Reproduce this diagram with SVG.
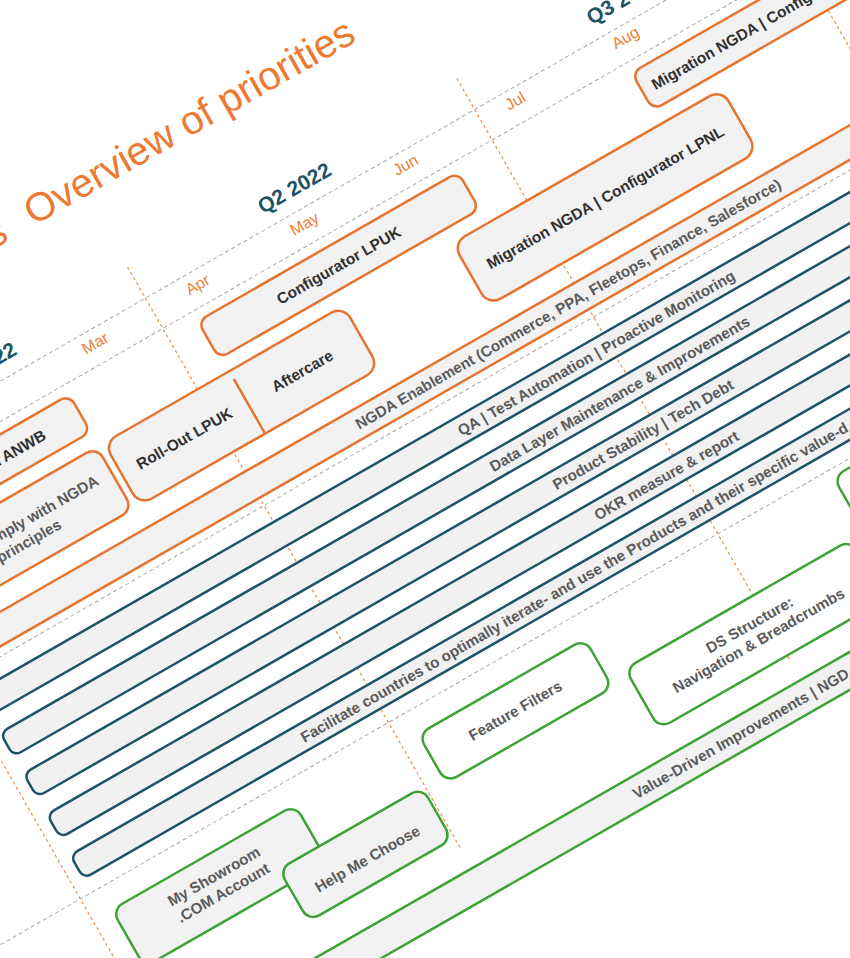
<svg xmlns="http://www.w3.org/2000/svg" width="850" height="958" viewBox="0 0 850 958">
<style>
text { font-family: "Liberation Sans", Arial, sans-serif; }
.title { font-size: 40px; fill: #EC7A32; }
.q { font-size: 21px; font-weight: bold; fill: #1D5366; }
.m { font-size: 16px; fill: #EC8038; text-anchor: middle; }
.grid { stroke: #A8A8A8; stroke-width: 1; stroke-dasharray: 4 3; fill: none; }
.vline { stroke: #EE8C4C; stroke-width: 1.2; stroke-dasharray: 3 3; fill: none; }
.ob { fill: #F2F2F2; stroke: #E8732C; stroke-width: 2.5; }
.tb { fill: #F1F1F1; stroke: #1F5466; stroke-width: 2.5; }
.gb { fill: #F2F2F2; stroke: #3DA335; stroke-width: 2.5; }
.gw { fill: #FFFFFF; stroke: #3DA335; stroke-width: 2.5; }
.lb { font-size: 15.5px; font-weight: bold; fill: #303030; text-anchor: middle; }
.bl { font-size: 15.2px; font-weight: bold; fill: #5A5A5A; text-anchor: middle; }
.st { text-anchor: start; }
.en { text-anchor: end; }
</style>
<rect width="850" height="958" fill="#FFFFFF"/>
<g transform="rotate(-29.8)">
  <g id="header">
    <text class="title" y="213"><tspan x="-130">s</tspan><tspan x="-83">Overview of priorities</tspan></text>
    <text class="q" x="-160" y="316" text-anchor="end">22</text>
    <text class="q" x="162" y="316.5" text-anchor="middle">Q2 2022</text>
    <text class="q" x="501" y="316">Q3 2</text>
    <text class="m" x="-88" y="350.5">Mar</text>
    <text class="m" x="30" y="350.5">Apr</text>
    <text class="m" x="153" y="351">May</text>
    <text class="m" x="270" y="350">Jun</text>
    <text class="m" x="397" y="349">Jul</text>
    <text class="m" x="524" y="349">Aug</text>
  </g>
  <g id="grid">
    <line class="grid" x1="-700" y1="331" x2="1400" y2="331"/>
    <line class="grid" x1="-700" y1="366" x2="1400" y2="366"/>
    <line class="grid" x1="-700" y1="570" x2="1400" y2="570"/>
    <line class="grid" x1="-700" y1="820" x2="1400" y2="820"/>
    <line class="vline" x1="-377" y1="295" x2="-377" y2="964"/>
    <line class="vline" x1="-22" y1="295" x2="-22" y2="964"/>
    <line class="vline" x1="357.5" y1="295" x2="357.5" y2="964"/>
    <line class="vline" x1="713.5" y1="295" x2="713.5" y2="964"/>
  </g>
  <g id="anwb">
    <rect class="ob" x="-360" y="377" width="224" height="43" rx="10"/>
    <text class="lb en" x="-177" y="404">n ANWB</text>
  </g>
  <g id="comply">
    <rect class="ob" x="-360" y="436" width="222" height="72" rx="12"/>
    <text class="bl en" x="-154" y="469.5">mply with NGDA</text>
    <text class="bl en" x="-208" y="489">principles</text>
  </g>
  <g id="rollout">
    <rect class="ob" x="-130" y="436" width="276" height="72" rx="14"/>
    <line x1="14.5" y1="445" x2="14.5" y2="507" stroke="#E8732C" stroke-width="2.5"/>
    <text class="lb" x="-58" y="477.5">Roll-Out LPUK</text>
    <text class="lb" x="78" y="477.5">Aftercare</text>
  </g>
  <g id="configurator-lpuk">
    <rect class="ob" x="12" y="377" width="300" height="43" rx="10"/>
    <text class="lb" x="162" y="404">Configurator LPUK</text>
  </g>
  <g id="migration-lpnl">
    <rect class="ob" x="272" y="436" width="310" height="72" rx="14"/>
    <text class="lb" x="427" y="477.5">Migration NGDA | Configurator LPNL</text>
  </g>
  <g id="migration-top">
    <rect class="ob" x="512" y="377" width="300" height="43" rx="10"/>
    <text class="lb st" x="524" y="404">Migration NGDA | Configu</text>
  </g>
  <g id="ngda-enablement">
    <rect class="ob" x="-364" y="531" width="1700" height="30" rx="6"/>
    <text class="bl" x="342" y="551.5">NGDA Enablement (Commerce, PPA, Fleetops, Finance, Salesforce)</text>
  </g>
  <g id="qa">
    <rect class="tb" x="-364" y="589" width="1700" height="27" rx="8"/>
    <text class="bl" x="342" y="608">QA | Test Automation | Proactive Monitoring</text>
  </g>
  <g id="data-layer">
    <rect class="tb" x="-364" y="636" width="1700" height="27" rx="8"/>
    <text class="bl" x="342" y="655">Data Layer Maintenance &amp; Improvements</text>
  </g>
  <g id="product-stability">
    <rect class="tb" x="-364" y="683" width="1700" height="27" rx="8"/>
    <text class="bl" x="342" y="702">Product Stability | Tech Debt</text>
  </g>
  <g id="okr">
    <rect class="tb" x="-364" y="730" width="1700" height="27" rx="8"/>
    <text class="bl" x="342" y="749">OKR measure &amp; report</text>
  </g>
  <g id="facilitate">
    <rect class="tb" x="-364" y="777" width="1700" height="27" rx="8"/>
    <text class="bl st" x="-105" y="796">Facilitate countries to optimally iterate- and use the Products and their specific value-d</text>
  </g>
  <g id="green-right">
    <rect class="gw" x="486" y="828" width="220" height="60" rx="12"/>
  </g>
  <g id="my-showroom">
    <rect class="gb" x="-355" y="845" width="211" height="66" rx="12"/>
    <text class="bl" x="-250" y="872">My Showroom</text>
    <text class="bl" x="-250" y="891">.COM Account</text>
  </g>
  <g id="help-me-choose">
    <rect class="gb" x="-190" y="893" width="165" height="60" rx="12"/>
    <text class="bl" x="-108" y="933">Help Me Choose</text>
  </g>
  <g id="feature-filters">
    <rect class="gw" x="-2" y="845" width="192" height="56" rx="12"/>
    <text class="bl" x="94" y="878">Feature Filters</text>
  </g>
  <g id="ds-structure">
    <rect class="gw" x="210" y="891" width="260" height="69" rx="12"/>
    <text class="bl" x="340" y="920">DS Structure:</text>
    <text class="bl" x="340" y="938">Navigation &amp; Breadcrumbs</text>
  </g>
  <g id="value-driven">
    <rect class="gb" x="-364" y="988" width="1700" height="33" rx="6"/>
    <text class="bl st" x="155" y="1010">Value-Driven Improvements | NGD</text>
  </g>
</g>
</svg>
